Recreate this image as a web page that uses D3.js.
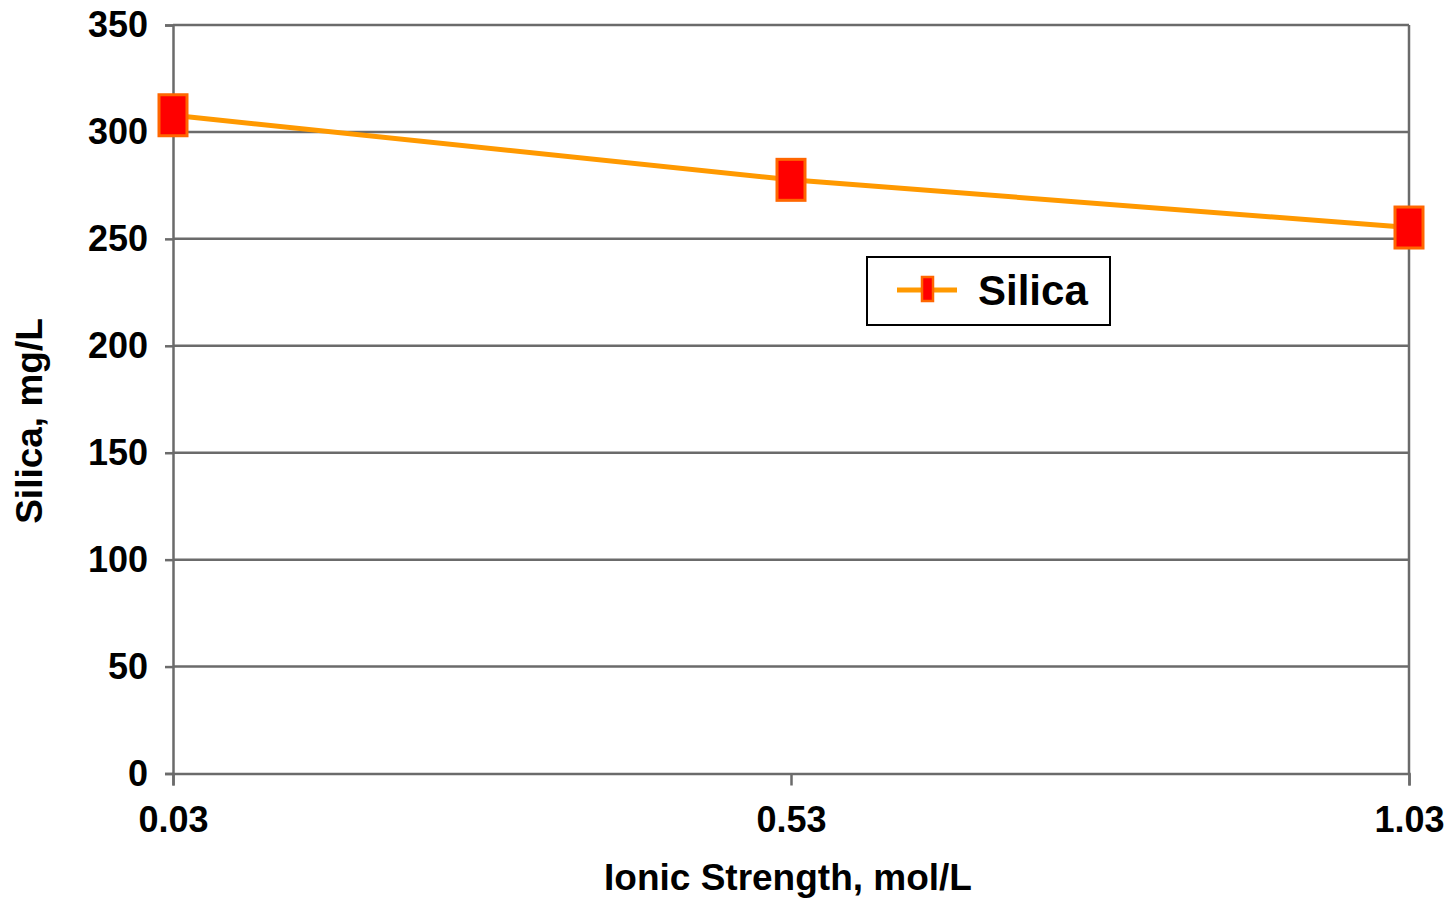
<!DOCTYPE html>
<html>
<head>
<meta charset="utf-8">
<script src="https://cdn.jsdelivr.net/npm/d3@7"></script>
<style>
  html, body { margin: 0; padding: 0; background: #fff; }
  svg { display: block; font-family: Arial, "Liberation Sans", sans-serif; font-weight: bold; }
</style>
</head>
<body>
<svg id="chart" width="1446" height="901"></svg>
<script>
// Silica concentration vs ionic strength
const ionicStrength = [0.03, 0.53, 1.03];
const silica = [307.8, 277.6, 255.3];
const xTickLabels = ["0.03", "0.53", "1.03"];
const yTicks = [0, 50, 100, 150, 200, 250, 300, 350];
const seriesName = "Silica";

(function () {
  const svg = d3.select("#chart");
  const plotLeft = 173, plotRight = 1409, plotTop = 25, plotBottom = 773.5;

  const x = d3.scaleLinear().domain([0.03, 1.03]).range([plotLeft, plotRight]);
  const y = d3.scaleLinear().domain([0, 350]).range([plotBottom, plotTop]);

  const gridColor = "#6b6b6b";
  const fontFam = "Arial, 'Liberation Sans', sans-serif";

  // horizontal gridlines
  svg.append("g").selectAll("line").data(yTicks.filter(d => d > 0)).join("line")
    .attr("x1", plotLeft).attr("x2", plotRight)
    .attr("y1", d => y(d)).attr("y2", d => y(d))
    .attr("stroke", gridColor).attr("stroke-width", 2.5);

  // right border of plot area
  svg.append("line")
    .attr("x1", plotRight).attr("x2", plotRight).attr("y1", plotTop).attr("y2", plotBottom)
    .attr("stroke", gridColor).attr("stroke-width", 2.5);

  // y axis
  const yAxis = d3.axisLeft(y).tickValues(yTicks).tickSize(8).tickPadding(17);
  const gy = svg.append("g").attr("transform", `translate(${plotLeft},0)`).call(yAxis);
  gy.select(".domain").attr("stroke", gridColor).attr("stroke-width", 2.5);
  gy.selectAll(".tick line").attr("stroke", gridColor).attr("stroke-width", 2.5);
  gy.selectAll(".tick text").attr("font-size", 36).attr("font-family", fontFam)
    .attr("font-weight", "bold").attr("fill", "#000");

  // x axis
  const xAxis = d3.axisBottom(x).tickValues(ionicStrength)
    .tickFormat((d, i) => xTickLabels[i]).tickSize(12).tickPadding(21);
  const gx = svg.append("g").attr("transform", `translate(0,${plotBottom})`).call(xAxis);
  gx.select(".domain").attr("stroke", gridColor).attr("stroke-width", 2.5);
  gx.selectAll(".tick line").attr("stroke", gridColor).attr("stroke-width", 2.5);
  gx.selectAll(".tick text").attr("font-size", 36).attr("font-family", fontFam)
    .attr("font-weight", "bold").attr("fill", "#000");

  // axis titles
  svg.append("text").attr("x", 788).attr("y", 890).attr("text-anchor", "middle")
    .attr("font-size", 37).attr("fill", "#000").text("Ionic Strength, mol/L");
  svg.append("text").attr("transform", "translate(42,421) rotate(-90)").attr("text-anchor", "middle")
    .attr("font-size", 37).attr("fill", "#000").text("Silica, mg/L");

  // series line
  const pts = ionicStrength.map((v, i) => [v, silica[i]]);
  svg.append("path").datum(pts)
    .attr("d", d3.line().x(d => x(d[0])).y(d => y(d[1])))
    .attr("fill", "none").attr("stroke", "#FF9900").attr("stroke-width", 5);

  // rectangular markers
  const mw = 28, mh = 41;
  svg.append("g").selectAll("rect").data(pts).join("rect")
    .attr("x", d => x(d[0]) - mw / 2).attr("y", d => y(d[1]) - mh / 2)
    .attr("width", mw).attr("height", mh)
    .attr("fill", "#FF0000").attr("stroke", "#FF6600").attr("stroke-width", 3);

  // legend
  const lg = svg.append("g").attr("transform", "translate(867,257)");
  lg.append("rect").attr("width", 243).attr("height", 68)
    .attr("fill", "#fff").attr("stroke", "#000").attr("stroke-width", 2);
  lg.append("line").attr("x1", 30).attr("x2", 90).attr("y1", 33).attr("y2", 33)
    .attr("stroke", "#FF9900").attr("stroke-width", 5);
  lg.append("rect").attr("x", 55).attr("y", 20).attr("width", 11).attr("height", 24)
    .attr("fill", "#FF0000").attr("stroke", "#FF6600").attr("stroke-width", 2.5);
  lg.append("text").attr("x", 111).attr("y", 48).attr("font-size", 42).attr("fill", "#000").text(seriesName);
})();
</script>
</body>
</html>
